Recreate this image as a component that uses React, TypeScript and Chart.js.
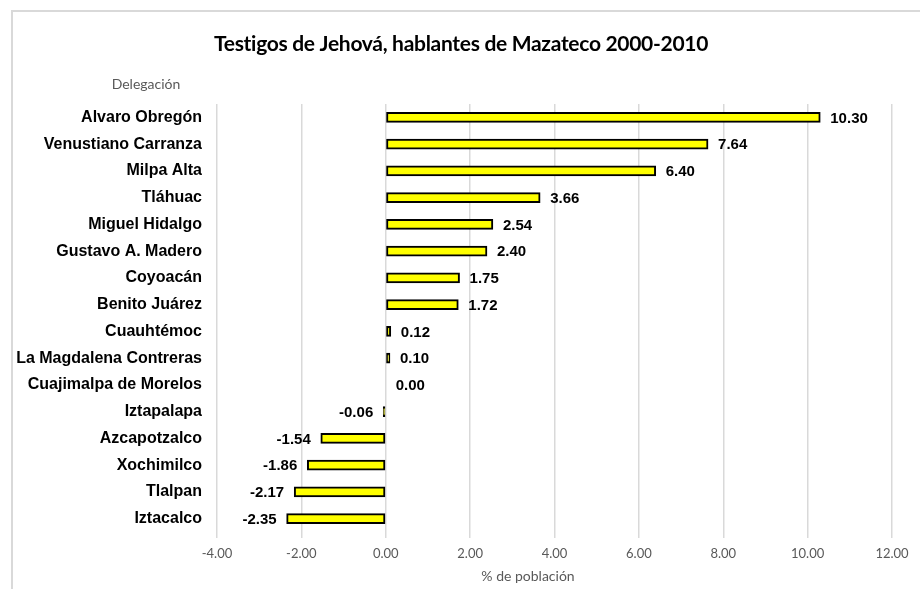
import React, { useEffect, useRef } from "react";
import { Chart, registerables } from "chart.js";

Chart.register(...registerables);

const categories = [
  "Alvaro Obregón",
  "Venustiano Carranza",
  "Milpa Alta",
  "Tláhuac",
  "Miguel Hidalgo",
  "Gustavo A. Madero",
  "Coyoacán",
  "Benito Juárez",
  "Cuauhtémoc",
  "La Magdalena Contreras",
  "Cuajimalpa de Morelos",
  "Iztapalapa",
  "Azcapotzalco",
  "Xochimilco",
  "Tlalpan",
  "Iztacalco",
];

const values = [10.3, 7.64, 6.4, 3.66, 2.54, 2.4, 1.75, 1.72, 0.12, 0.1, 0.0, -0.06, -1.54, -1.86, -2.17, -2.35];

const titleText = "Testigos de Jehová, hablantes de Mazateco 2000-2010";
const yAxisTitle = "Delegación";
const xAxisTitle = "% de población";
const xMin = -4;
const xMax = 12;
const xStep = 2;

const textPlugin = {
  id: "textPlugin",
  afterDraw(chart: any) {
    const ctx = chart.ctx;
    ctx.save();
    ctx.fillStyle = "#000";
    ctx.font = "bold 21px Lato";
    try {
      (ctx as any).letterSpacing = "-0.3px";
    } catch (e) {}
    ctx.textAlign = "center";
    ctx.textBaseline = "middle";
    ctx.fillText(titleText, 461, 44);
    try {
      (ctx as any).letterSpacing = "0px";
    } catch (e) {}

    ctx.fillStyle = "#595959";
    ctx.font = "14px Lato";
    ctx.fillText(yAxisTitle, 146, 84);
    ctx.fillText(xAxisTitle, 528, 576);

    const meta = chart.getDatasetMeta(0);
    ctx.fillStyle = "#000";
    ctx.font = "bold 15px 'Liberation Sans'";
    meta.data.forEach((bar: any, i: number) => {
      const v = values[i];
      const label = v.toFixed(2);
      if (v < 0) {
        ctx.textAlign = "right";
        ctx.fillText(label, bar.x - 10, bar.y + 1);
      } else {
        ctx.textAlign = "left";
        ctx.fillText(label, bar.x + 10, bar.y + 1);
      }
    });
    ctx.restore();
  },
};

export default function App() {
  const canvasRef = useRef<HTMLCanvasElement | null>(null);

  useEffect(() => {
    if (!canvasRef.current) return;
    const chart = new Chart(canvasRef.current, {
      type: "bar",
      data: {
        labels: categories,
        datasets: [
          {
            data: values,
            backgroundColor: "#ffff00",
            borderColor: "#000000",
            borderWidth: 2,
            borderSkipped: false,
            barThickness: 10,
          },
        ],
      },
      options: {
        indexAxis: "y",
        animation: false,
        responsive: false,
        maintainAspectRatio: false,
        layout: { padding: { top: 104, left: 0, right: 28, bottom: 0 } },
        plugins: {
          legend: { display: false },
          tooltip: { enabled: false },
          title: { display: false },
        },
        scales: {
          x: {
            type: "linear",
            min: xMin,
            max: xMax,
            ticks: {
              stepSize: xStep,
              color: "#595959",
              font: { family: "Lato", size: 13 },
              padding: 8,
              callback: (v: any) => Number(v).toFixed(2),
            },
            grid: { color: "#d9d9d9", lineWidth: 1.5, tickLength: 6, drawTicks: true },
            border: { display: false },
            afterFit: (scale: any) => {
              scale.height = 57;
            },
          },
          y: {
            type: "category",
            ticks: {
              color: "#000",
              font: { family: "'Liberation Sans'", size: 16, weight: "bold" },
              padding: 15,
              autoSkip: false,
            },
            grid: { display: false, drawTicks: false },
            border: { display: false },
            afterFit: (scale: any) => {
              scale.width = 217;
            },
          },
        },
      },
      plugins: [textPlugin],
    });
    return () => chart.destroy();
  }, []);

  return (
    <div
      style={{
        position: "fixed",
        left: 0,
        top: 0,
        width: 920,
        height: 589,
        overflow: "hidden",
        background: "#fff",
      }}
    >
      <div
        style={{
          position: "absolute",
          left: 11,
          top: 10,
          width: 2000,
          height: 2000,
          border: "2px solid #d9d9d9",
        }}
      />
      <canvas
        ref={canvasRef}
        width={920}
        height={589}
        style={{ position: "absolute", left: 0, top: 0, width: 920, height: 589 }}
      />
    </div>
  );
}
